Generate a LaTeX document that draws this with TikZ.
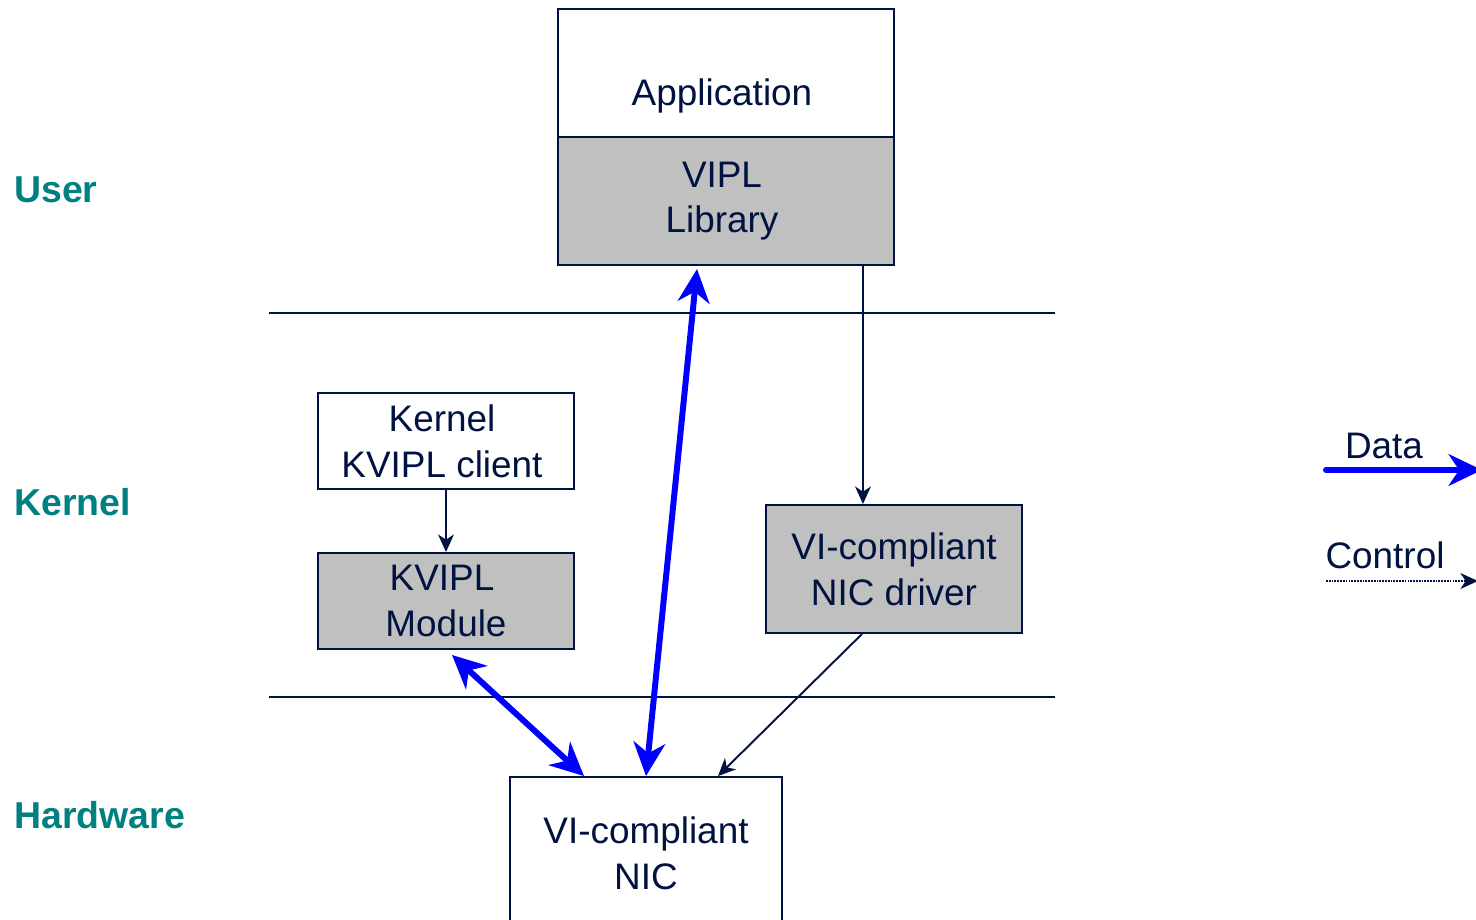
\documentclass[tikz,border=0pt]{standalone}
\usepackage{fontspec}
\setmainfont{Liberation Sans}
\usetikzlibrary{arrows.meta}
\definecolor{navy}{RGB}{0,18,64}
\definecolor{teal}{RGB}{0,128,128}
\definecolor{boxgray}{RGB}{192,192,192}
\definecolor{datablue}{RGB}{0,0,255}

\begin{document}
\begin{tikzpicture}[
    every node/.style={font=\fontsize{21}{26}\selectfont, text=navy},
    layer/.style={draw=navy, line width=1.1pt, align=center, inner sep=0pt},
    level/.style={font=\fontsize{21.3}{26}\selectfont\bfseries, text=teal, anchor=west, inner sep=0pt},
    ctrl/.style={draw=navy, line width=1.1pt, -{Stealth[length=10pt,width=9pt,inset=3pt]}},
    data/.style={draw=datablue, line width=3.4pt, {Stealth[length=19pt,width=18pt,inset=6pt]}-{Stealth[length=19pt,width=18pt,inset=6pt]}}
    ]
    \useasboundingbox (0,0) rectangle (29.52,-18.38);
    \clip (0,0) rectangle (29.52,-18.38);
    % layer names
    \node [level] (user) at (0.28,-3.8) {User};
    \node [level] (kern) at (0.28,-10.04) {Kernel};
    \node [level] (hard) at (0.28,-16.3) {Hardware};
    % boundaries
    \draw [navy, line width=1.1pt] (5.38,-6.26) -- (21.1,-6.26);
    \draw [navy, line width=1.1pt] (5.38,-13.94) -- (21.1,-13.94);
    % boxes
    \node [layer, minimum width=6.72cm, minimum height=2.56cm, text height=1.5cm, text depth=0.22cm] (app) at (14.52,-1.46) {\hspace*{-0.16cm}Application};
    \node [layer, fill=boxgray, minimum width=6.72cm, minimum height=2.56cm] (vipl) at (14.52,-4.02) {VIPL\hspace*{0.16cm}\\Library\hspace*{0.16cm}};
    \node [layer, minimum width=5.12cm, minimum height=1.92cm] (cli) at (8.92,-8.82) {Kernel\hspace*{0.16cm}\\KVIPL client\hspace*{0.16cm}};
    \node [layer, fill=boxgray, minimum width=5.12cm, minimum height=1.92cm] (mod) at (8.92,-12.02) {KVIPL\hspace*{0.16cm}\\Module};
    \node [layer, fill=boxgray, minimum width=5.12cm, minimum height=2.56cm] (drv) at (17.88,-11.38) {VI-compliant\\NIC driver};
    \node [layer, minimum width=5.44cm, minimum height=3.06cm] (nic) at (12.92,-17.07) {VI-compliant\\NIC};
    % control
    \draw [ctrl] ([xshift=-0.64cm]vipl.south east) coordinate (c1) -- (c1 |- drv.north);
    \draw [ctrl] (cli.south) -- (mod.north);
    \draw [ctrl] ([xshift=-0.64cm]drv.south) -- ([xshift=1.44cm]nic.north);
    % data
    \draw [data] ([xshift=-0.58cm,yshift=-0.06cm]vipl.south) -- (nic.north);
    \draw [data] ([xshift=0.12cm,yshift=-0.1cm]mod.south) -- ([xshift=-1.24cm]nic.north);
    % legend
    \node (ldata) at (27.68,-8.92) {Data};
    \coordinate (d1) at (26.52,-9.4);
    \coordinate (d2) at (29.64,-9.4);
    \draw [draw=datablue, line width=3.4pt, line cap=round, -{Stealth[length=19pt,width=18pt,inset=6pt]}] (d1) -- (d2);
    \node (lctrl) at (27.7,-11.1) {Control};
    \coordinate (k1) at (26.52,-11.62);
    \coordinate (k2) at (29.56,-11.62);
    \draw [navy, line width=1pt, dash pattern=on 1pt off 0.6pt, -{Stealth[length=10pt,width=9pt,inset=3pt]}] (k1) -- (k2);
\end{tikzpicture}
\end{document}
